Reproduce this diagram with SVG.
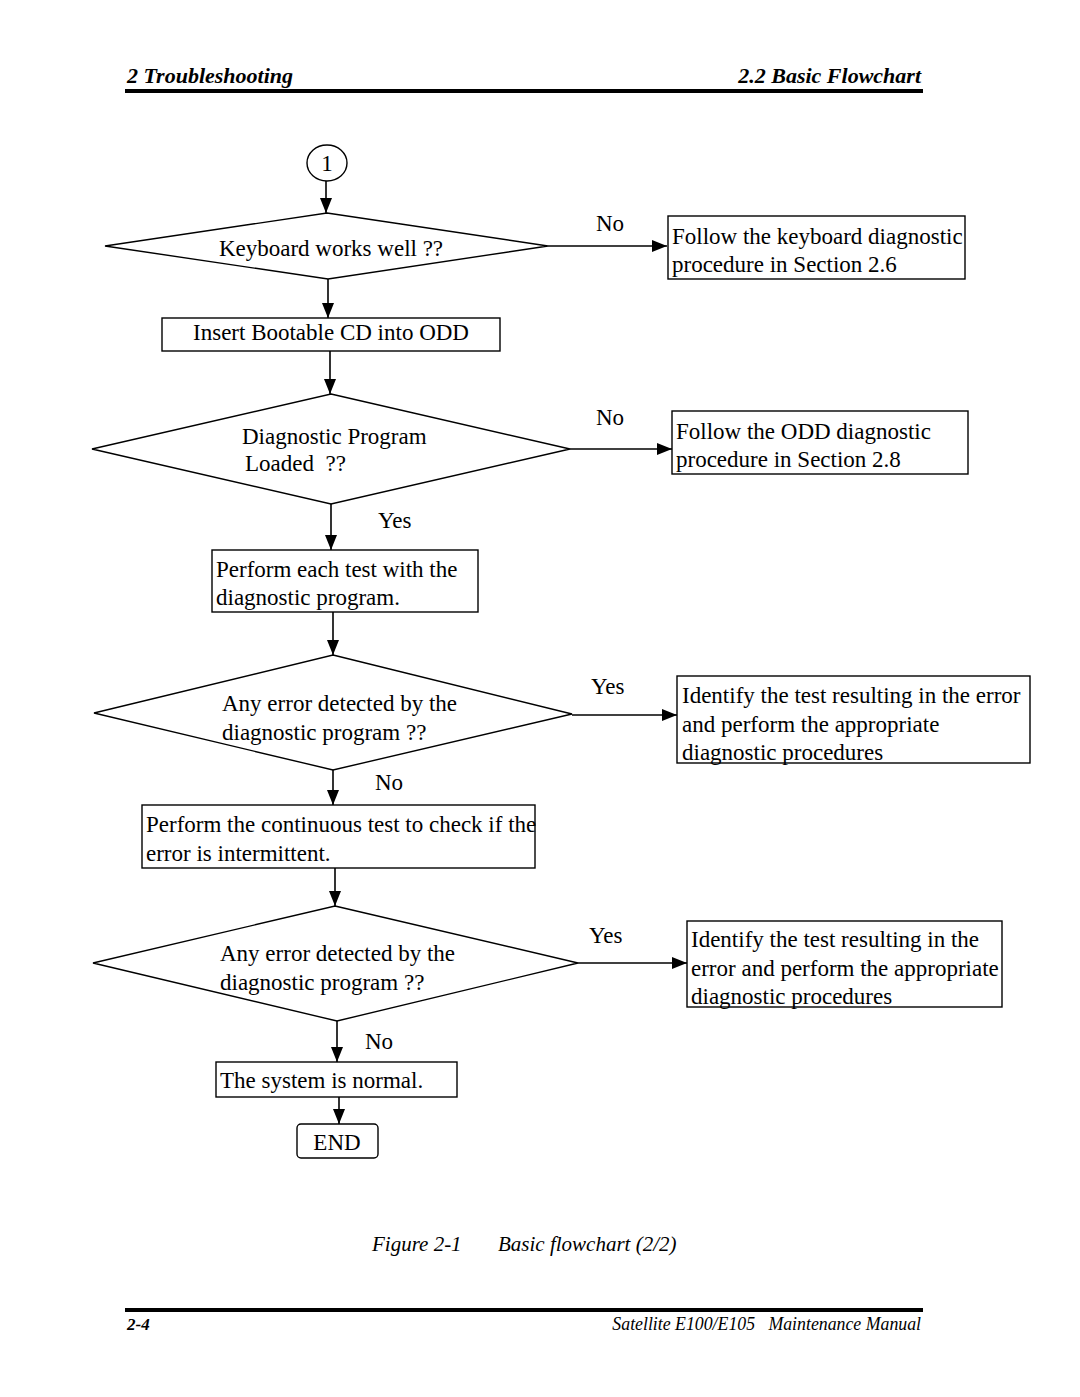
<svg xmlns="http://www.w3.org/2000/svg" width="1080" height="1397" viewBox="0 0 1080 1397">
<style>
.t{font-family:"Liberation Serif","Times New Roman",serif;font-size:23px;fill:#000}
.s{fill:#fff;stroke:#000;stroke-width:1.4}
.c{stroke:#000;stroke-width:1.6;fill:none;marker-end:url(#ah)}
.hd{font-family:"Liberation Serif","Times New Roman",serif;font-weight:bold;font-style:italic;font-size:22px}
.it{font-family:"Liberation Serif","Times New Roman",serif;font-style:italic}
</style>
<defs>
<marker id="ah" markerUnits="userSpaceOnUse" markerWidth="15" markerHeight="12" refX="15" refY="6" orient="auto">
<path d="M0,0 L15,6 L0,12 z" fill="#000"/>
</marker>
</defs>
<rect width="1080" height="1397" fill="#fff"/>
<g id="header">
<text class="hd" x="127" y="83">2  Troubleshooting</text>
<text class="hd" x="921" y="83" text-anchor="end">2.2  Basic Flowchart</text>
<rect x="125" y="89" width="798" height="4" fill="#000"/>
</g>
<g id="connectors">
<line class="c" x1="326" y1="181" x2="326" y2="213"/>
<line class="c" x1="548" y1="246" x2="667" y2="246"/>
<line class="c" x1="328" y1="279" x2="328" y2="318"/>
<line class="c" x1="330" y1="351" x2="330" y2="394"/>
<line class="c" x1="570" y1="449" x2="672" y2="449"/>
<line class="c" x1="331" y1="504" x2="331" y2="550"/>
<line class="c" x1="333" y1="612" x2="333" y2="655"/>
<line class="c" x1="572" y1="715" x2="677" y2="715"/>
<line class="c" x1="333" y1="770" x2="333" y2="805"/>
<line class="c" x1="335" y1="868" x2="335" y2="906"/>
<line class="c" x1="578" y1="963" x2="687" y2="963"/>
<line class="c" x1="337" y1="1021" x2="337" y2="1062"/>
<line class="c" x1="339" y1="1097" x2="339" y2="1124"/>
<text class="t" x="596" y="231">No</text>
<text class="t" x="596" y="425">No</text>
<text class="t" x="378" y="528">Yes</text>
<text class="t" x="591" y="694">Yes</text>
<text class="t" x="375" y="790">No</text>
<text class="t" x="589" y="943">Yes</text>
<text class="t" x="365" y="1049">No</text>
</g>
<g id="start">
<ellipse class="s" cx="327" cy="163" rx="20" ry="18"/>
<text class="t" x="327" y="171" text-anchor="middle">1</text>
</g>
<g id="d1">
<polygon class="s" points="327,213 548,246 328,279 105,246"/>
<text class="t" x="331" y="256" text-anchor="middle">Keyboard works well ??</text>
</g>
<g id="kbd">
<rect class="s" x="668" y="216" width="297" height="63"/>
<text class="t" x="672" y="244">Follow the keyboard diagnostic</text>
<text class="t" x="672" y="272">procedure in Section 2.6</text>
</g>
<g id="insert">
<rect class="s" x="162" y="318" width="338" height="33"/>
<text class="t" x="331" y="340" text-anchor="middle">Insert Bootable CD into ODD</text>
</g>
<g id="d2">
<polygon class="s" points="331,394 570,449 331,504 92,449"/>
<text class="t" x="242" y="444">Diagnostic Program</text>
<text class="t" x="245" y="471" xml:space="preserve">Loaded  ??</text>
</g>
<g id="odd">
<rect class="s" x="672" y="411" width="296" height="63"/>
<text class="t" x="676" y="439">Follow the ODD diagnostic</text>
<text class="t" x="676" y="467">procedure in Section 2.8</text>
</g>
<g id="perform">
<rect class="s" x="212" y="550" width="266" height="62"/>
<text class="t" x="216" y="577">Perform each test with the</text>
<text class="t" x="216" y="605">diagnostic program.</text>
</g>
<g id="d3">
<polygon class="s" points="333,655 572,714 333,770 94,713"/>
<text class="t" x="222" y="711">Any error detected by the</text>
<text class="t" x="222" y="740">diagnostic program ??</text>
</g>
<g id="ident1">
<rect class="s" x="677" y="676" width="353" height="87"/>
<text class="t" x="682" y="703">Identify the test resulting in the error</text>
<text class="t" x="682" y="732">and perform the appropriate</text>
<text class="t" x="682" y="760">diagnostic procedures</text>
</g>
<g id="continuous">
<rect class="s" x="142" y="805" width="393" height="63"/>
<text class="t" x="146" y="832">Perform the continuous test to check if the</text>
<text class="t" x="146" y="861">error is intermittent.</text>
</g>
<g id="d4">
<polygon class="s" points="335,906 578,963 337,1021 93,963"/>
<text class="t" x="220" y="961">Any error detected by the</text>
<text class="t" x="220" y="990">diagnostic program ??</text>
</g>
<g id="ident2">
<rect class="s" x="687" y="921" width="315" height="86"/>
<text class="t" x="691" y="947">Identify the test resulting in the</text>
<text class="t" x="691" y="976">error and perform the appropriate</text>
<text class="t" x="691" y="1004">diagnostic procedures</text>
</g>
<g id="normal">
<rect class="s" x="216" y="1062" width="241" height="35"/>
<text class="t" x="220" y="1088">The system is normal.</text>
</g>
<g id="end">
<rect class="s" x="297" y="1124" width="81" height="34" rx="4"/>
<text class="t" x="337" y="1150" text-anchor="middle">END</text>
</g>
<g id="caption">
<text class="it" x="372" y="1251" font-size="21">Figure 2-1</text>
<text class="it" x="498" y="1251" font-size="21">Basic flowchart (2/2)</text>
</g>
<g id="footer">
<rect x="125" y="1308" width="798" height="4" fill="#000"/>
<text class="hd" x="127" y="1330" style="font-size:17px">2-4</text>
<text class="it" x="921" y="1330" font-size="17.8" text-anchor="end" xml:space="preserve">Satellite E100/E105   Maintenance Manual</text>
</g>
</svg>
